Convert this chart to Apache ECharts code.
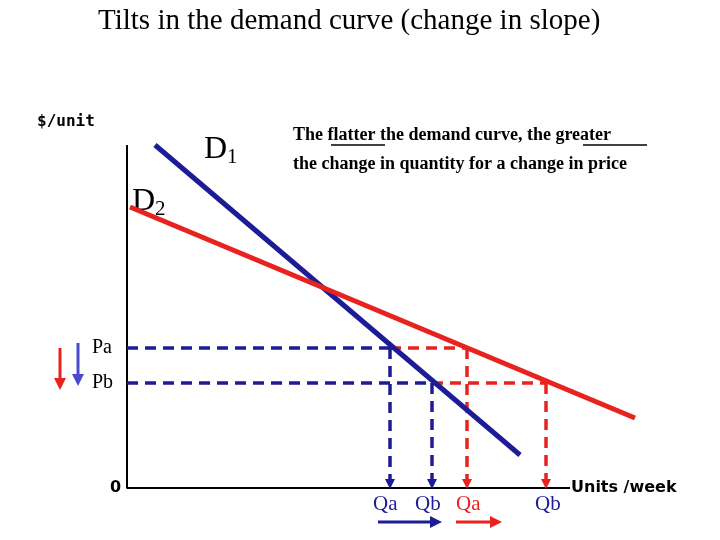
<!DOCTYPE html><html><head><meta charset="utf-8"><script src="https://cdn.jsdelivr.net/npm/echarts@6/dist/echarts.min.js"></script>
<style>body{margin:0}#c{width:720px;height:540px}</style></head><body><div id="c"></div><script>
// coordinates: x = screen-like quantity units, y = price units (540 - screen y)
const D1 = [[155,395],[520,85]];
const D2 = [[130,333],[635,122]];
const Pa = 192, Pb = 157, base = 52;
const QaBlue = 390, QbBlue = 432, QaRed = 467, QbRed = 546;
const axisPts = [[127,395],[127,base],[570,base]];
const NAVY='#1c1c96', RED='#e8231f';
function dash(pts,color,arrow){return {type:'line',data:pts.map((p,i)=>({value:p,symbol:(arrow&&i===pts.length-1)?'triangle':'none',symbolSize:[10,10],symbolRotate:180})),
 lineStyle:{color,width:3.5,type:[11,7]},itemStyle:{color},showSymbol:true,z:3,silent:true};}
const chart=echarts.init(document.getElementById('c'));
const T=(x,y,t,s)=>({type:'text',left:x,top:y,style:Object.assign({text:t},s)});
const serif='"Liberation Serif",serif';
chart.setOption({animation:false,
 grid:{left:127,right:0,top:0,bottom:52},
 xAxis:{type:'value',min:127,max:720,show:false},
 yAxis:{type:'value',min:base,max:540,show:false},
 series:[
  {type:'line',data:axisPts,symbol:'none',lineStyle:{color:'#000',width:2},z:1},
  dash([[127,Pa],[QaBlue,Pa]],NAVY),dash([[127,Pb],[QbBlue,Pb]],NAVY),
  dash([[QaBlue,Pa],[QaRed,Pa]],RED),dash([[QbBlue,Pb],[QbRed,Pb]],RED),
  dash([[QaBlue,Pa],[QaBlue,base+4]],NAVY,true),dash([[QbBlue,Pb],[QbBlue,base+4]],NAVY,true),
  dash([[QaRed,Pa],[QaRed,base+4]],RED,true),dash([[QbRed,Pb],[QbRed,base+4]],RED,true),
  {type:'line',data:D1,symbol:'none',lineStyle:{color:NAVY,width:5},z:4},
  {type:'line',data:D2,symbol:'none',lineStyle:{color:RED,width:5},z:5}
 ],
 graphic:[
  T(98,7,'Tilts in the demand curve (change in slope)',{font:'29px '+serif,fill:'#000'}),
  T(37,114,'$/unit',{font:'bold 16px "DejaVu Sans Mono",monospace',fill:'#000'}),
  {type:'text',left:204,top:134,style:{text:'{a|D}{b|1}',rich:{a:{font:'32px '+serif},b:{font:'21px '+serif,padding:[15,0,0,0]}}}},
  {type:'text',left:132,top:186,style:{text:'{a|D}{b|2}',rich:{a:{font:'32px '+serif},b:{font:'21px '+serif,padding:[15,0,0,0]}}}},
  T(293,126,'The flatter the demand curve, the greater',{font:'bold 18px '+serif,fill:'#000'}),
  T(293,155,'the change in quantity for a change in price',{font:'bold 18px '+serif,fill:'#000'}),
  {type:'line',shape:{x1:331,y1:145,x2:385,y2:145},style:{stroke:'#000',lineWidth:1.3}},
  {type:'line',shape:{x1:583,y1:145,x2:647,y2:145},style:{stroke:'#000',lineWidth:1.3}},
  T(92,338,'Pa',{font:'20px '+serif,fill:'#000'}),
  T(92,373,'Pb',{font:'20px '+serif,fill:'#000'}),
  T(110,480,'0',{font:'bold 16px "DejaVu Sans",sans-serif',fill:'#000'}),
  T(373,494,'Qa',{font:'21px '+serif,fill:NAVY}),
  T(415,494,'Qb',{font:'21px '+serif,fill:NAVY}),
  T(456,494,'Qa',{font:'21px '+serif,fill:RED}),
  T(535,494,'Qb',{font:'21px '+serif,fill:NAVY}),
  T(571,480,'Units /week',{font:'bold 16px "DejaVu Sans",sans-serif',fill:'#000'}),
  {type:'line',shape:{x1:60,y1:348,x2:60,y2:380},style:{stroke:RED,lineWidth:3}},
  {type:'polygon',shape:{points:[[54,378],[66,378],[60,390]]},style:{fill:RED}},
  {type:'line',shape:{x1:78,y1:343,x2:78,y2:376},style:{stroke:'#4a4acc',lineWidth:3}},
  {type:'polygon',shape:{points:[[72,374],[84,374],[78,386]]},style:{fill:'#4a4acc'}},
  {type:'line',shape:{x1:378,y1:522,x2:432,y2:522},style:{stroke:NAVY,lineWidth:3}},
  {type:'polygon',shape:{points:[[430,516],[430,528],[442,522]]},style:{fill:NAVY}},
  {type:'line',shape:{x1:456,y1:522,x2:492,y2:522},style:{stroke:RED,lineWidth:3}},
  {type:'polygon',shape:{points:[[490,516],[490,528],[502,522]]},style:{fill:RED}}
 ]});
</script></body></html>
